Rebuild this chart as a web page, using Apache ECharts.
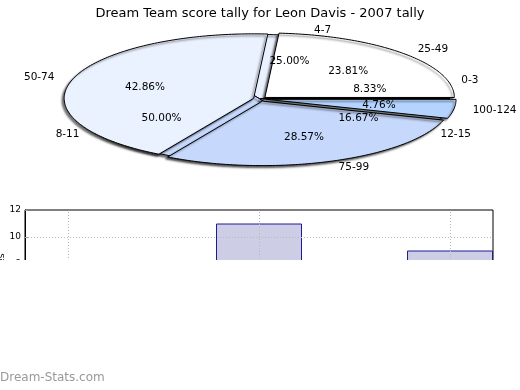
<!DOCTYPE html>
<html><head><meta charset="utf-8">
<script src="https://cdn.jsdelivr.net/npm/echarts@6/dist/echarts.min.js"></script>
<style>html,body{margin:0;padding:0;background:#fff}#c{width:520px;height:390px}</style>
</head><body><div id="c"></div>
<script>
// ---- data ----
const titleText = 'Dream Team score tally for Leon Davis - 2007 tally';
const pieALabels = ['0-3', '4-7', '8-11', '12-15'];
const pieAValues = [8.33, 25.00, 50.00, 16.67];
const pieBLabels = ['25-49', '50-74', '75-99', '100-124'];
const pieBValues = [23.81, 42.86, 28.57, 4.76];
const barX = [0, 1, 2];
const barValues = [5, 11, 9];
const yTickValues = [0, 2, 4, 6, 8, 10, 12];
const yAxisName = 'Count of games';
const watermark = 'Dream-Stats.com';

// ---- styles ----
const FONT = 'DejaVu Sans';
const pieAColors = ['#1a1a1a', '#eaf1ff', '#c6d9fd', '#f6f8ff'];
const pieBColors = ['#ffffff', '#eaf1ff', '#c6d9fd', '#b4d3fe'];
const EXPLODE_A = 0, EXPLODE_B = 0.035;

function sliceGeom(values, i, explode) {
  const total = values.reduce((a, b) => a + b, 0);
  let start = 0;
  for (let k = 0; k < i; k++) start += values[k];
  const a0 = start / total * 2 * Math.PI;
  const a1 = (start + values[i]) / total * 2 * Math.PI;
  const am = (a0 + a1) / 2;
  return { a0, a1, am, cx: explode * Math.cos(am), cy: explode * Math.sin(am), frac: values[i] / total };
}

function wedgeRender(values, colors, explode) {
  return function (params, api) {
    const i = params.dataIndex;
    const g = sliceGeom(values, i, explode);
    const pts = [api.coord([g.cx, g.cy])];
    const n = Math.max(2, Math.ceil((g.a1 - g.a0) / (Math.PI / 180)));
    for (let s = 0; s <= n; s++) {
      const t = g.a0 + (g.a1 - g.a0) * s / n;
      pts.push(api.coord([g.cx + Math.cos(t), g.cy + Math.sin(t)]));
    }
    return {
      type: 'polygon',
      shape: { points: pts },
      style: {
        fill: colors[i], stroke: '#000', lineWidth: 1, lineJoin: 'miter',
        shadowBlur: 2, shadowColor: 'rgba(0,0,0,0.55)', shadowOffsetX: -2, shadowOffsetY: 2
      }
    };
  };
}

function labelRender(values, labels, explode) {
  return function (params, api) {
    const i = params.dataIndex;
    const g = sliceGeom(values, i, explode);
    const pIn = api.coord([g.cx + 0.6 * Math.cos(g.am), g.cy + 0.6 * Math.sin(g.am)]);
    const pOut = api.coord([g.cx + 1.1 * Math.cos(g.am), g.cy + 1.1 * Math.sin(g.am)]);
    return {
      type: 'group',
      children: [
        { type: 'text', x: pIn[0], y: pIn[1],
          style: { text: (g.frac * 100).toFixed(2) + '%', align: 'center', verticalAlign: 'middle',
                   fontFamily: FONT, fontSize: 10.5, fill: '#000' } },
        { type: 'text', x: pOut[0], y: pOut[1],
          style: { text: labels[i], align: Math.cos(g.am) > 0 ? 'left' : 'right', verticalAlign: 'middle',
                   fontFamily: FONT, fontSize: 10.5, fill: '#000' } }
      ]
    };
  };
}

const chart = echarts.init(document.getElementById('c'), null, { renderer: 'canvas' });
chart.setOption({
  animation: false,
  backgroundColor: '#fff',
  title: { text: titleText, left: 'center', top: 2,
           textStyle: { fontFamily: FONT, fontSize: 13, fontWeight: 'normal', color: '#000' } },
  grid: [
    { left: 70.5, right: 70.5, top: 34.5, bottom: 226.5, show: false, containLabel: false, outerBoundsMode: 'none' },
    { left: 25, right: 27, top: 210, bottom: 18, show: true, borderColor: '#000', borderWidth: 1,
      backgroundColor: 'transparent', containLabel: false, outerBoundsMode: 'none' }
  ],
  xAxis: [
    { gridIndex: 0, type: 'value', min: -1, max: 1, show: false },
    { gridIndex: 1, type: 'value', min: -0.225, max: 2.225, show: false }
  ],
  yAxis: [
    { gridIndex: 0, type: 'value', min: -1, max: 1, show: false },
    { gridIndex: 1, type: 'value', min: 0, max: 12, interval: 2,
      name: yAxisName, nameLocation: 'middle', nameGap: 18, nameMoveOverlap: false,
      nameTextStyle: { fontFamily: FONT, fontSize: 9.5, color: '#000' },
      axisLine: { show: true, onZero: false, lineStyle: { color: '#000', width: 1 } },
      axisTick: { show: true, inside: true, length: 3, lineStyle: { color: '#999' } },
      axisLabel: { fontFamily: FONT, fontSize: 9, color: '#000', margin: 4 },
      splitLine: { show: false } }
  ],
  series: [
    { type: 'custom', name: 'A', xAxisIndex: 0, yAxisIndex: 0, z: 2,
      data: pieAValues.map((v, i) => [i, v]), renderItem: wedgeRender(pieAValues, pieAColors, EXPLODE_A), silent: true },
    { type: 'custom', name: 'B', xAxisIndex: 0, yAxisIndex: 0, z: 3,
      data: pieBValues.map((v, i) => [i, v]), renderItem: wedgeRender(pieBValues, pieBColors, EXPLODE_B), silent: true },
    { type: 'custom', name: 'A labels', xAxisIndex: 0, yAxisIndex: 0, z: 4,
      data: pieAValues.map((v, i) => [i, v]), renderItem: labelRender(pieAValues, pieALabels, EXPLODE_A), silent: true },
    { type: 'custom', name: 'B labels', xAxisIndex: 0, yAxisIndex: 0, z: 4,
      data: pieBValues.map((v, i) => [i, v]), renderItem: labelRender(pieBValues, pieBLabels, EXPLODE_B), silent: true },
    { type: 'bar', xAxisIndex: 1, yAxisIndex: 1, barWidth: 86,
      data: barX.map((x, i) => [x, barValues[i]]),
      itemStyle: { color: '#cdcde6', borderColor: '#1c1c96', borderWidth: 1 },
      markLine: {
        silent: true, symbol: ['none', 'none'], label: { show: false },
        lineStyle: { color: '#b8b8b8', type: [1, 2], width: 1 },
        data: barX.map(x => ({ xAxis: x })).concat(
          yTickValues.slice(1, -1).map(y => ({ yAxis: y })))
      }
    }
  ],
  graphic: [
    { type: 'rect', left: 0, top: 260, shape: { width: 520, height: 130 }, style: { fill: '#fff' }, z: 100 },
    { type: 'text', left: 0, top: 372, style: { text: watermark, fill: '#999', fontFamily: FONT, fontSize: 12 }, z: 101 }
  ]
});
</script>
</body></html>
